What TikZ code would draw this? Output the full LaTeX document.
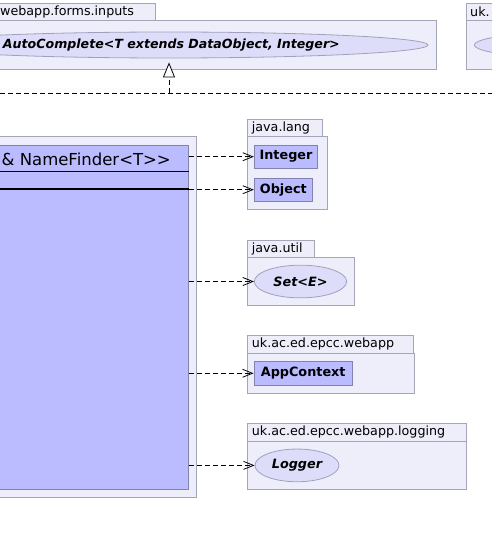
\documentclass[tikz,border=0pt]{standalone}
\usepackage{fontspec}
\setmainfont{DejaVu Sans}
\usetikzlibrary{shapes.geometric,arrows.meta}
\definecolor{pkgfill}{RGB}{238,238,251}
\definecolor{pkgline}{RGB}{165,165,185}
\definecolor{clsfill}{RGB}{187,187,255}
\definecolor{clsline}{RGB}{130,130,175}
\definecolor{ellfill}{RGB}{221,221,250}
\definecolor{ellline}{RGB}{160,160,190}
\tikzset{
  pkg/.style={draw=pkgline, fill=pkgfill, line width=0.9pt, anchor=north west, inner sep=0pt},
  plabel/.style={anchor=west, inner sep=0pt, font=\fontsize{12.7}{15}\selectfont},
  cls/.style={draw=clsline, fill=clsfill, line width=0.9pt, inner sep=0pt, font=\bfseries\fontsize{12.8}{15}\selectfont},
  iface/.style={ellipse, draw=ellline, fill=ellfill, line width=0.8pt, inner sep=0pt, font=\bfseries\itshape\fontsize{12.8}{15}\selectfont},
  dep/.style={draw=black, line width=0.8pt, dash pattern=on 5pt off 3pt, -{Straight Barb[length=10pt,width=8pt,line width=0.8pt]}},
  real/.style={draw=black, line width=0.8pt, dash pattern=on 5pt off 3pt, -{Triangle[open,length=15pt,width=12pt,line width=0.8pt,fill=white]}},
  dline/.style={draw=black, line width=0.8pt, dash pattern=on 5pt off 3pt}
}
\begin{document}
\begin{tikzpicture}[x=1pt,y=-1pt]
\useasboundingbox (0,0) rectangle (492,535);
\clip (0,0) rectangle (492,535);
% top-left package
\node[pkg, minimum width=541pt, minimum height=49pt] (p1body) at (-105,20) {};
\node[pkg, minimum width=260pt, minimum height=17pt] (p1tab) at (-105,3) {};
\node[plabel] (p1label) at (0,11.5) {webapp.forms.inputs};
\node[iface, minimum width=518pt, minimum height=26pt] (ac) at (169,45) {};
\node[anchor=east, inner sep=0pt, font=\bfseries\itshape\fontsize{12.6}{15}\selectfont] (actext) at (340,45) {AutoComplete<T extends DataObject, Integer>};
% top-right package
\node[pkg, minimum width=120pt, minimum height=49pt] (p2body) at (466,20) {};
\node[pkg, minimum width=60pt, minimum height=17pt] (p2tab) at (466,3) {};
\node[plabel] (p2label) at (470,11.5) {uk.};
\node[iface, minimum width=200pt, minimum height=26pt, anchor=west] (p2if) at (474,45) {};
% realization and horizontal line
\coordinate (rb) at (169,93);
\coordinate (hl) at (0,93);
\coordinate (hr) at (492,93);
\draw[dline] (hl) -- (hr);
\draw[real] (rb) -- ([yshift=-4pt]ac.south);
% main package and class
\node[pkg, minimum width=216pt, minimum height=361pt] (mainpkg) at (-20,136) {};
\node[cls, anchor=north west, minimum width=208pt, minimum height=344pt] (cls) at (-20,145) {};
\node[anchor=base east, inner sep=0pt, font=\fontsize{16.5}{19}\selectfont] (title) at (171,165) {\& NameFinder<T>{}>};
\draw[black, line width=0.8pt] ([yshift=-26.5pt]cls.north west) -- ([yshift=-26.5pt]cls.north east);
\draw[black, line width=1.4pt] ([yshift=-44pt]cls.north west) -- ([yshift=-44pt]cls.north east);
% java.lang
\node[pkg, minimum width=80pt, minimum height=73pt] (jlbody) at (246.7,136) {};
\node[pkg, minimum width=75.3pt, minimum height=16.7pt] (jltab) at (246.7,119.3) {};
\node[plabel] (jllabel) at (251.7,127.9) {java.lang};
\node[cls, minimum width=63.4pt, minimum height=23.3pt] (integer) at (286,156.7) {Integer};
\node[cls, minimum width=58pt, minimum height=22.7pt] (object) at (283.3,189.7) {Object};
% java.util
\node[pkg, minimum width=107.6pt, minimum height=48.3pt] (jubody) at (246.7,256.7) {};
\node[pkg, minimum width=67.6pt, minimum height=16.7pt] (jutab) at (246.7,240) {};
\node[plabel] (julabel) at (251.7,248.6) {java.util};
\node[iface, minimum width=92.4pt, minimum height=32.7pt] (set) at (300.5,281.5) {Set<E>};
% uk.ac.ed.epcc.webapp
\node[pkg, minimum width=167.6pt, minimum height=39.4pt] (wabody) at (246.7,353.3) {};
\node[pkg, minimum width=166.6pt, minimum height=18.3pt] (watab) at (246.7,335) {};
\node[plabel] (walabel) at (251.7,344.2) {uk.ac.ed.epcc.webapp};
\node[cls, minimum width=98.3pt, minimum height=24pt] (appctx) at (303.2,373.3) {AppContext};
% uk.ac.ed.epcc.webapp.logging
\node[pkg, minimum width=219.3pt, minimum height=48pt] (lgbody) at (246.7,441) {};
\node[pkg, minimum width=219.3pt, minimum height=17.7pt] (lgtab) at (246.7,423.3) {};
\node[plabel] (lglabel) at (251.7,432.3) {uk.ac.ed.epcc.webapp.logging};
\node[iface, minimum width=84pt, minimum height=32.7pt] (logger) at (297,465.4) {Logger};
% dependencies
\draw[dep] (cls.east |- integer.west) -- (integer.west);
\draw[dep] (cls.east |- object.west) -- (object.west);
\draw[dep] (cls.east |- set.west) -- (set.west);
\draw[dep] (cls.east |- appctx.west) -- (appctx.west);
\draw[dep] (cls.east |- logger.west) -- (logger.west);
\end{tikzpicture}
\end{document}
